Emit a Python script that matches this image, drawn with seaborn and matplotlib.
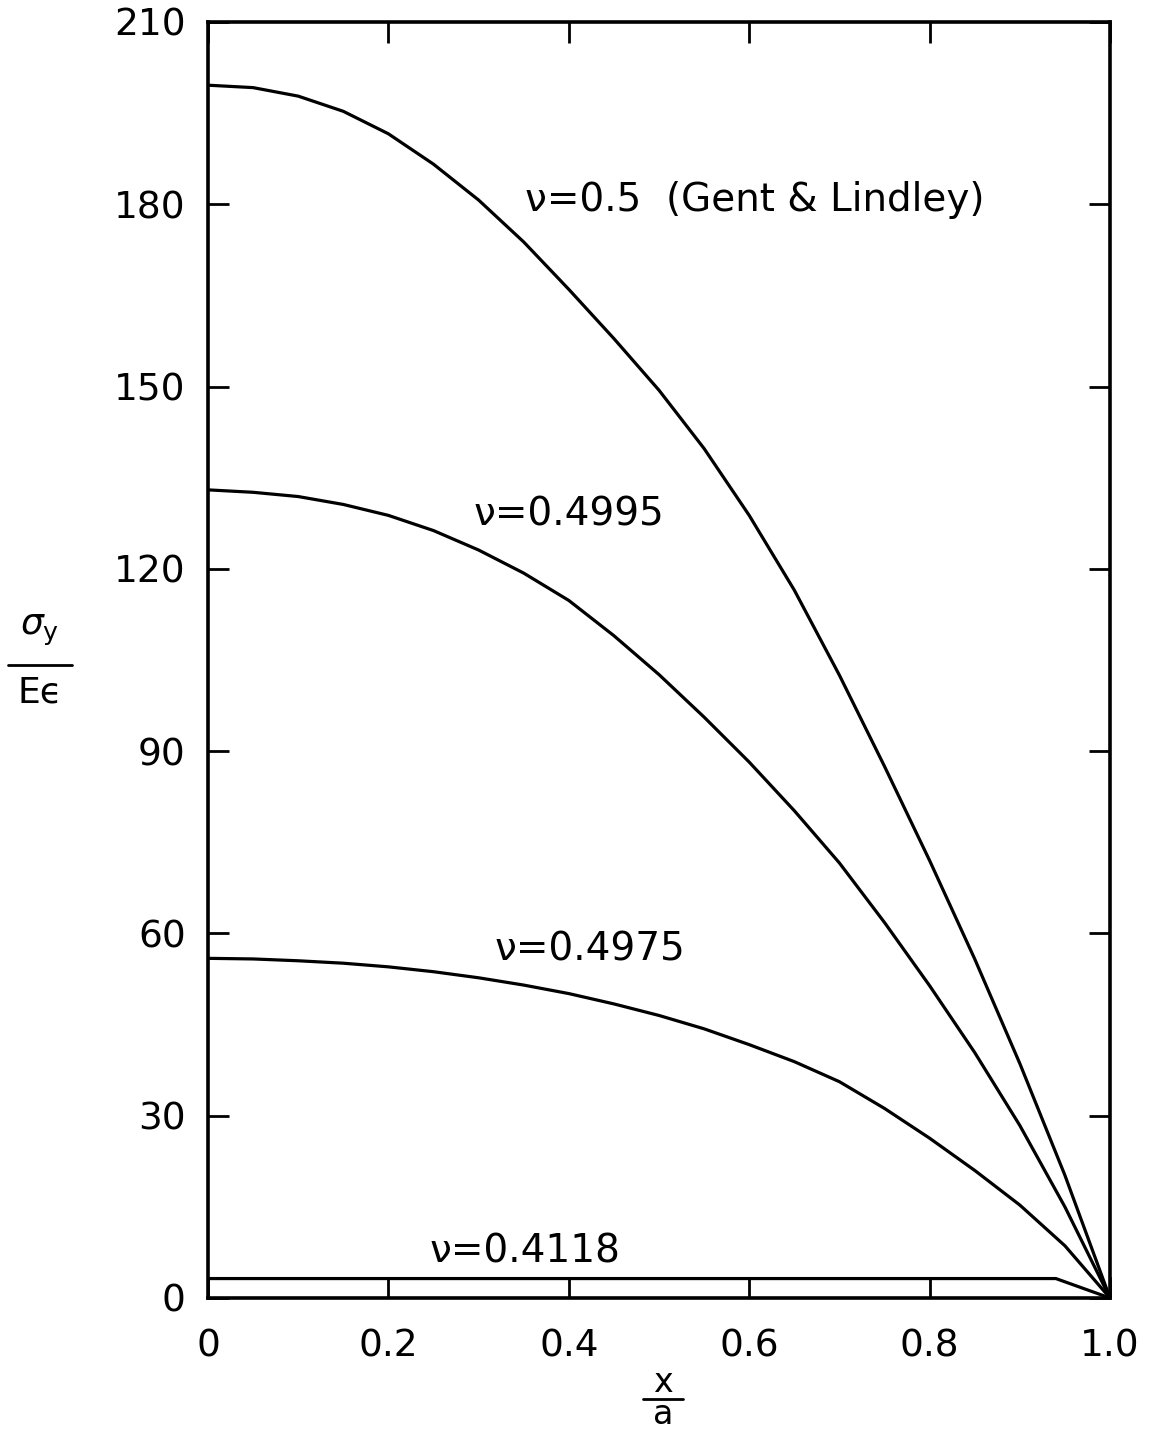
import matplotlib
matplotlib.use("Agg")
import matplotlib.pyplot as plt
from matplotlib.lines import Line2D
import seaborn as sns
import pandas as pd

# Normalized stress sigma_y / (E * eps) along x/a for several Poisson ratios
x_grid = [0.0, 0.05, 0.1, 0.15, 0.2, 0.25, 0.3, 0.35, 0.4, 0.45, 0.5,
          0.55, 0.6, 0.65, 0.7, 0.75, 0.8, 0.85, 0.9, 0.95, 1.0]

y_05 = [199.6, 199.2, 197.8, 195.3, 191.6, 186.6, 180.7, 173.8, 166.0, 157.9, 149.4,
        139.8, 128.8, 116.5, 102.5, 87.5, 72.0, 55.8, 38.6, 20.2, 0.0]

y_04995 = [133.0, 132.6, 131.9, 130.6, 128.8, 126.3, 123.1, 119.3, 114.8, 109.0, 102.6,
           95.6, 88.2, 80.2, 71.6, 61.8, 51.4, 40.4, 28.4, 15.0, 0.0]

y_04975 = [55.9, 55.8, 55.5, 55.1, 54.5, 53.7, 52.7, 51.5, 50.1, 48.4, 46.5,
           44.3, 41.7, 38.9, 35.6, 31.2, 26.3, 21.0, 15.3, 8.6, 0.0]

x_04118 = [0.0, 0.3, 0.6, 0.94, 1.0]
y_04118 = [3.2, 3.2, 3.2, 3.2, 0.0]

series_names = ["ν=0.5", "ν=0.4995", "ν=0.4975", "ν=0.4118"]
curve_labels = ["ν=0.5  (Gent & Lindley)", "ν=0.4995", "ν=0.4975", "ν=0.4118"]

x_ticks = [0.0, 0.2, 0.4, 0.6, 0.8, 1.0]
x_tick_labels = ["0", "0.2", "0.4", "0.6", "0.8", "1.0"]
y_ticks = [0, 30, 60, 90, 120, 150, 180, 210]

frames = []
for name, xs, ys in zip(series_names,
                        [x_grid, x_grid, x_grid, x_04118],
                        [y_05, y_04995, y_04975, y_04118]):
    frames.append(pd.DataFrame({"x": xs, "s": ys, "nu": name}))
df = pd.concat(frames, ignore_index=True)

sns.set_theme(style="ticks")
plt.rcParams["font.family"] = ["DejaVu Sans"]
plt.rcParams["mathtext.fontset"] = "dejavusans"
plt.rcParams["text.color"] = "black"

W, H = 1151, 1435
fig = plt.figure(figsize=(W / 100, H / 100), dpi=100)
ax = fig.add_axes([208 / W, 1 - 1298 / H, 902 / W, 1276 / H])

sns.lineplot(data=df, x="x", y="s", units="nu", estimator=None, sort=False,
             color="black", linewidth=2.3, ax=ax, legend=False)

ax.set_xlim(0, 1.0)
ax.set_ylim(0, 210)
ax.set_xticks(x_ticks)
ax.set_xticklabels(x_tick_labels)
ax.set_yticks(y_ticks)
ax.set_xlabel("")
ax.set_ylabel("")

for side in ["left", "right", "top", "bottom"]:
    ax.spines[side].set_visible(True)
    ax.spines[side].set_linewidth(2.6)
    ax.spines[side].set_color("black")

ax.tick_params(axis="both", direction="in", length=15, width=2.0, colors="black",
               labelsize=27, top=True, right=True)
ax.tick_params(axis="x", pad=22)
ax.tick_params(axis="y", pad=16)

# Curve annotations
label_pos = [(0.351, 180.7), (0.294, 128.9), (0.318, 57.3), (0.246, 7.6)]
for text, (lx, ly) in zip(curve_labels, label_pos):
    ax.text(lx, ly, text, fontsize=28, ha="left", va="center", color="black")


def px(x, y):
    return x / W, 1 - y / H


def stacked_fraction(cx, num, den, y_num, y_bar, y_den, x0, x1, size):
    fig.text(*px(cx, y_num), num, ha="center", va="center", fontsize=size, color="black")
    fig.text(*px(cx, y_den), den, ha="center", va="center", fontsize=size, color="black")
    fig.add_artist(Line2D([x0 / W, x1 / W], [1 - y_bar / H] * 2,
                          transform=fig.transFigure, color="black", linewidth=2.0))


# y-axis label: sigma_y / E epsilon
stacked_fraction(40, r"$\sigma_\mathrm{y}$", "Eϵ", 630, 665, 692, 8, 72, 26)
# x-axis label: x / a
stacked_fraction(663, "x", "a", 1382, 1399, 1415, 643, 683, 24)

fig.savefig("out.png", dpi=100, facecolor="white")
